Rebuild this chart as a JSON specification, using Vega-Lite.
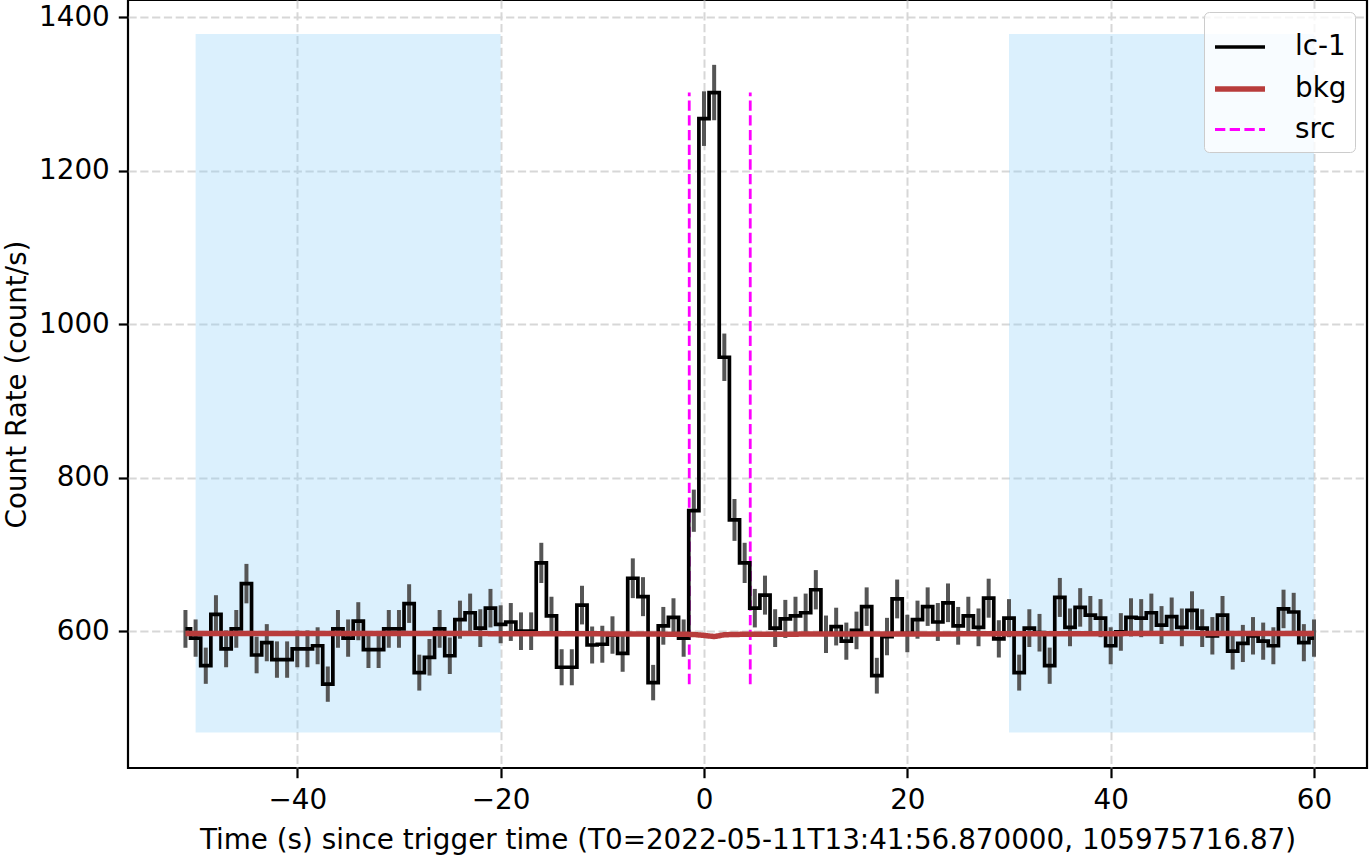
{
  "$schema": "https://vega.github.io/schema/vega-lite/v6.json",
  "width": 1239,
  "height": 768,
  "autosize": {"type": "none"},
  "padding": {"left": 128, "right": 2, "top": 0, "bottom": 88},
  "background": "white",
  "config": {
    "view": {"stroke": "#000000", "strokeWidth": 2.2},
    "axis": {
      "domain": false,
      "grid": true,
      "gridColor": "#d7d7d7",
      "gridDash": [8.2, 3.6],
      "gridWidth": 2,
      "tickColor": "#000000",
      "tickWidth": 2.2,
      "tickSize": 9.7,
      "labelFont": "DejaVu Sans",
      "labelFontSize": 27.8,
      "labelColor": "#000000",
      "labelPadding": 9,
      "titleFont": "DejaVu Sans",
      "titleFontSize": 27.8,
      "titleFontWeight": "normal",
      "titleColor": "#000000"
    },
    "legend": {
      "orient": "top-right",
      "offset": 12,
      "symbolType": "stroke",
      "symbolSize": 2500,
      "rowPadding": -9,
      "padding": 8,
      "labelFont": "DejaVu Sans",
      "labelFontSize": 27.8,
      "labelColor": "#000000",
      "labelOffset": 27,
      "strokeColor": "#cccccc",
      "fillColor": "rgba(255,255,255,0.8)",
      "cornerRadius": 5
    }
  },
  "datasets": {
    "shade": [
      {"t1": -50, "t2": -20, "r1": 468.1, "r2": 1378.3},
      {"t1": 30, "t2": 60, "r1": 468.1, "r2": 1378.3}
    ],
    "src": [
      {"t": -1.45, "lo": 531, "hi": 1302, "series": "src"},
      {"t": 4.55, "lo": 531, "hi": 1302, "series": "src"}
    ],
    "bkg": [
      {"t": -51, "rate": 597, "series": "bkg"},
      {"t": -40, "rate": 597, "series": "bkg"},
      {"t": -30, "rate": 597, "series": "bkg"},
      {"t": -20, "rate": 596.8, "series": "bkg"},
      {"t": -10, "rate": 596.5, "series": "bkg"},
      {"t": -5, "rate": 596.3, "series": "bkg"},
      {"t": -3, "rate": 596, "series": "bkg"},
      {"t": -2, "rate": 596, "series": "bkg"},
      {"t": -1, "rate": 595.7, "series": "bkg"},
      {"t": 0, "rate": 594.5, "series": "bkg"},
      {"t": 1, "rate": 593, "series": "bkg"},
      {"t": 2, "rate": 595.3, "series": "bkg"},
      {"t": 3, "rate": 595.8, "series": "bkg"},
      {"t": 5, "rate": 596, "series": "bkg"},
      {"t": 10, "rate": 596.2, "series": "bkg"},
      {"t": 20, "rate": 596.4, "series": "bkg"},
      {"t": 30, "rate": 596.6, "series": "bkg"},
      {"t": 40, "rate": 596.8, "series": "bkg"},
      {"t": 50, "rate": 597, "series": "bkg"},
      {"t": 60, "rate": 597, "series": "bkg"}
    ],
    "lc": [
      {"t": -51, "rate": 603, "err": 24.6, "series": "lc-1"},
      {"t": -50, "rate": 591, "err": 24.3, "series": "lc-1"},
      {"t": -49, "rate": 555, "err": 23.6, "series": "lc-1"},
      {"t": -48, "rate": 622, "err": 24.9, "series": "lc-1"},
      {"t": -47, "rate": 577, "err": 24.0, "series": "lc-1"},
      {"t": -46, "rate": 603, "err": 24.6, "series": "lc-1"},
      {"t": -45, "rate": 662, "err": 25.7, "series": "lc-1"},
      {"t": -44, "rate": 569, "err": 23.9, "series": "lc-1"},
      {"t": -43, "rate": 585, "err": 24.2, "series": "lc-1"},
      {"t": -42, "rate": 563, "err": 23.7, "series": "lc-1"},
      {"t": -41, "rate": 563, "err": 23.7, "series": "lc-1"},
      {"t": -40, "rate": 577, "err": 24.0, "series": "lc-1"},
      {"t": -39, "rate": 577, "err": 24.0, "series": "lc-1"},
      {"t": -38, "rate": 581, "err": 24.1, "series": "lc-1"},
      {"t": -37, "rate": 531, "err": 23.0, "series": "lc-1"},
      {"t": -36, "rate": 603, "err": 24.6, "series": "lc-1"},
      {"t": -35, "rate": 591, "err": 24.3, "series": "lc-1"},
      {"t": -34, "rate": 613, "err": 24.8, "series": "lc-1"},
      {"t": -33, "rate": 576, "err": 24.0, "series": "lc-1"},
      {"t": -32, "rate": 576, "err": 24.0, "series": "lc-1"},
      {"t": -31, "rate": 603, "err": 24.6, "series": "lc-1"},
      {"t": -30, "rate": 603, "err": 24.6, "series": "lc-1"},
      {"t": -29, "rate": 636, "err": 25.2, "series": "lc-1"},
      {"t": -28, "rate": 546, "err": 23.4, "series": "lc-1"},
      {"t": -27, "rate": 566, "err": 23.8, "series": "lc-1"},
      {"t": -26, "rate": 603, "err": 24.6, "series": "lc-1"},
      {"t": -25, "rate": 568, "err": 23.8, "series": "lc-1"},
      {"t": -24, "rate": 615, "err": 24.8, "series": "lc-1"},
      {"t": -23, "rate": 624, "err": 25.0, "series": "lc-1"},
      {"t": -22, "rate": 604, "err": 24.6, "series": "lc-1"},
      {"t": -21, "rate": 630, "err": 25.1, "series": "lc-1"},
      {"t": -20, "rate": 609, "err": 24.7, "series": "lc-1"},
      {"t": -19, "rate": 612, "err": 24.7, "series": "lc-1"},
      {"t": -18, "rate": 600, "err": 24.5, "series": "lc-1"},
      {"t": -17, "rate": 600, "err": 24.5, "series": "lc-1"},
      {"t": -16, "rate": 689, "err": 26.2, "series": "lc-1"},
      {"t": -15, "rate": 620, "err": 24.9, "series": "lc-1"},
      {"t": -14, "rate": 553, "err": 23.5, "series": "lc-1"},
      {"t": -13, "rate": 553, "err": 23.5, "series": "lc-1"},
      {"t": -12, "rate": 634, "err": 25.2, "series": "lc-1"},
      {"t": -11, "rate": 582, "err": 24.1, "series": "lc-1"},
      {"t": -10, "rate": 583, "err": 24.1, "series": "lc-1"},
      {"t": -9, "rate": 595, "err": 24.4, "series": "lc-1"},
      {"t": -8, "rate": 571, "err": 23.9, "series": "lc-1"},
      {"t": -7, "rate": 669, "err": 25.9, "series": "lc-1"},
      {"t": -6, "rate": 645, "err": 25.4, "series": "lc-1"},
      {"t": -5, "rate": 533, "err": 23.1, "series": "lc-1"},
      {"t": -4, "rate": 607, "err": 24.6, "series": "lc-1"},
      {"t": -3, "rate": 618, "err": 24.9, "series": "lc-1"},
      {"t": -2, "rate": 591, "err": 24.3, "series": "lc-1"},
      {"t": -1, "rate": 757, "err": 27.5, "series": "lc-1"},
      {"t": 0, "rate": 1268, "err": 35.6, "series": "lc-1"},
      {"t": 1, "rate": 1302, "err": 36.1, "series": "lc-1"},
      {"t": 2, "rate": 957, "err": 30.9, "series": "lc-1"},
      {"t": 3, "rate": 745, "err": 27.3, "series": "lc-1"},
      {"t": 4, "rate": 689, "err": 26.2, "series": "lc-1"},
      {"t": 5, "rate": 630, "err": 25.1, "series": "lc-1"},
      {"t": 6, "rate": 647, "err": 25.4, "series": "lc-1"},
      {"t": 7, "rate": 604, "err": 24.6, "series": "lc-1"},
      {"t": 8, "rate": 616, "err": 24.8, "series": "lc-1"},
      {"t": 9, "rate": 620, "err": 24.9, "series": "lc-1"},
      {"t": 10, "rate": 624, "err": 25.0, "series": "lc-1"},
      {"t": 11, "rate": 654, "err": 25.6, "series": "lc-1"},
      {"t": 12, "rate": 596, "err": 24.4, "series": "lc-1"},
      {"t": 13, "rate": 606, "err": 24.6, "series": "lc-1"},
      {"t": 14, "rate": 587, "err": 24.2, "series": "lc-1"},
      {"t": 15, "rate": 601, "err": 24.5, "series": "lc-1"},
      {"t": 16, "rate": 632, "err": 25.1, "series": "lc-1"},
      {"t": 17, "rate": 542, "err": 23.3, "series": "lc-1"},
      {"t": 18, "rate": 593, "err": 24.4, "series": "lc-1"},
      {"t": 19, "rate": 642, "err": 25.3, "series": "lc-1"},
      {"t": 20, "rate": 597, "err": 24.4, "series": "lc-1"},
      {"t": 21, "rate": 615, "err": 24.8, "series": "lc-1"},
      {"t": 22, "rate": 632, "err": 25.1, "series": "lc-1"},
      {"t": 23, "rate": 612, "err": 24.7, "series": "lc-1"},
      {"t": 24, "rate": 637, "err": 25.2, "series": "lc-1"},
      {"t": 25, "rate": 607, "err": 24.6, "series": "lc-1"},
      {"t": 26, "rate": 620, "err": 24.9, "series": "lc-1"},
      {"t": 27, "rate": 605, "err": 24.6, "series": "lc-1"},
      {"t": 28, "rate": 643, "err": 25.4, "series": "lc-1"},
      {"t": 29, "rate": 590, "err": 24.3, "series": "lc-1"},
      {"t": 30, "rate": 617, "err": 24.8, "series": "lc-1"},
      {"t": 31, "rate": 546, "err": 23.4, "series": "lc-1"},
      {"t": 32, "rate": 604, "err": 24.6, "series": "lc-1"},
      {"t": 33, "rate": 598, "err": 24.5, "series": "lc-1"},
      {"t": 34, "rate": 555, "err": 23.6, "series": "lc-1"},
      {"t": 35, "rate": 644, "err": 25.4, "series": "lc-1"},
      {"t": 36, "rate": 605, "err": 24.6, "series": "lc-1"},
      {"t": 37, "rate": 631, "err": 25.1, "series": "lc-1"},
      {"t": 38, "rate": 621, "err": 24.9, "series": "lc-1"},
      {"t": 39, "rate": 617, "err": 24.8, "series": "lc-1"},
      {"t": 40, "rate": 581, "err": 24.1, "series": "lc-1"},
      {"t": 41, "rate": 599, "err": 24.5, "series": "lc-1"},
      {"t": 42, "rate": 618, "err": 24.9, "series": "lc-1"},
      {"t": 43, "rate": 617, "err": 24.8, "series": "lc-1"},
      {"t": 44, "rate": 624, "err": 25.0, "series": "lc-1"},
      {"t": 45, "rate": 608, "err": 24.7, "series": "lc-1"},
      {"t": 46, "rate": 619, "err": 24.9, "series": "lc-1"},
      {"t": 47, "rate": 605, "err": 24.6, "series": "lc-1"},
      {"t": 48, "rate": 627, "err": 25.0, "series": "lc-1"},
      {"t": 49, "rate": 604, "err": 24.6, "series": "lc-1"},
      {"t": 50, "rate": 594, "err": 24.4, "series": "lc-1"},
      {"t": 51, "rate": 621, "err": 24.9, "series": "lc-1"},
      {"t": 52, "rate": 574, "err": 24.0, "series": "lc-1"},
      {"t": 53, "rate": 584, "err": 24.2, "series": "lc-1"},
      {"t": 54, "rate": 594, "err": 24.4, "series": "lc-1"},
      {"t": 55, "rate": 587, "err": 24.2, "series": "lc-1"},
      {"t": 56, "rate": 581, "err": 24.1, "series": "lc-1"},
      {"t": 57, "rate": 629, "err": 25.1, "series": "lc-1"},
      {"t": 58, "rate": 625, "err": 25.0, "series": "lc-1"},
      {"t": 59, "rate": 585, "err": 24.2, "series": "lc-1"},
      {"t": 60, "rate": 591, "err": 24.3, "series": "lc-1"}
    ]
  },
  "layer": [
    {
      "data": {"name": "shade"},
      "mark": {"type": "rect", "fill": "#87cefa", "opacity": 0.3},
      "encoding": {
        "x": {"field": "t1", "type": "quantitative",
              "scale": {"domain": [-56.65, 65.21], "nice": false, "zero": false},
              "axis": {"values": [-40, -20, 0, 20, 40, 60], "format": "d", "titlePadding": 12},
              "title": "Time (s) since trigger time (T0=2022-05-11T13:41:56.870000, 105975716.87)"},
        "x2": {"field": "t2"},
        "y": {"field": "r1", "type": "quantitative",
              "scale": {"domain": [421.7, 1422.6], "nice": false, "zero": false},
              "axis": {"values": [600, 800, 1000, 1200, 1400], "format": "d", "titlePadding": 7},
              "title": "Count Rate (count/s)"},
        "y2": {"field": "r2"}
      }
    },
    {
      "data": {"name": "src"},
      "mark": {"type": "rule"},
      "encoding": {
        "x": {"field": "t", "type": "quantitative", "title": "Time (s) since trigger time (T0=2022-05-11T13:41:56.870000, 105975716.87)"},
        "y": {"field": "lo", "type": "quantitative", "title": "Count Rate (count/s)"},
        "y2": {"field": "hi"},
        "color": {"field": "series", "type": "nominal", "title": null,
                  "scale": {"domain": ["lc-1", "bkg", "src"], "range": ["#000000", "#b83c3c", "#ff00ff"]}},
        "strokeDash": {"field": "series", "type": "nominal", "title": null,
                       "scale": {"domain": ["lc-1", "bkg", "src"], "range": [[1, 0], [1, 0], [10.3, 4.4]]}},
        "strokeWidth": {"field": "series", "type": "nominal", "title": null,
                        "scale": {"type": "ordinal", "domain": ["lc-1", "bkg", "src"], "range": [3.7, 5.5, 2.8]}}
      }
    },
    {
      "data": {"name": "lc"},
      "mark": {"type": "errorbar", "color": "#555555", "thickness": 4},
      "encoding": {
        "x": {"field": "t", "type": "quantitative", "title": "Time (s) since trigger time (T0=2022-05-11T13:41:56.870000, 105975716.87)"},
        "y": {"field": "rate", "type": "quantitative", "title": "Count Rate (count/s)"},
        "yError": {"field": "err"}
      }
    },
    {
      "data": {"name": "lc"},
      "mark": {"type": "line", "interpolate": "step"},
      "encoding": {
        "x": {"field": "t", "type": "quantitative", "title": "Time (s) since trigger time (T0=2022-05-11T13:41:56.870000, 105975716.87)"},
        "y": {"field": "rate", "type": "quantitative", "title": "Count Rate (count/s)"},
        "color": {"field": "series", "type": "nominal", "title": null,
                  "scale": {"domain": ["lc-1", "bkg", "src"], "range": ["#000000", "#b83c3c", "#ff00ff"]}},
        "strokeDash": {"field": "series", "type": "nominal", "title": null,
                       "scale": {"domain": ["lc-1", "bkg", "src"], "range": [[1, 0], [1, 0], [10.3, 4.4]]}},
        "strokeWidth": {"field": "series", "type": "nominal", "title": null,
                        "scale": {"type": "ordinal", "domain": ["lc-1", "bkg", "src"], "range": [3.7, 5.5, 2.8]}}
      }
    },
    {
      "data": {"name": "bkg"},
      "mark": {"type": "line"},
      "encoding": {
        "x": {"field": "t", "type": "quantitative", "title": "Time (s) since trigger time (T0=2022-05-11T13:41:56.870000, 105975716.87)"},
        "y": {"field": "rate", "type": "quantitative", "title": "Count Rate (count/s)"},
        "color": {"field": "series", "type": "nominal", "title": null,
                  "scale": {"domain": ["lc-1", "bkg", "src"], "range": ["#000000", "#b83c3c", "#ff00ff"]}},
        "strokeDash": {"field": "series", "type": "nominal", "title": null,
                       "scale": {"domain": ["lc-1", "bkg", "src"], "range": [[1, 0], [1, 0], [10.3, 4.4]]}},
        "strokeWidth": {"field": "series", "type": "nominal", "title": null,
                        "scale": {"type": "ordinal", "domain": ["lc-1", "bkg", "src"], "range": [3.7, 5.5, 2.8]}}
      }
    }
  ]
}
